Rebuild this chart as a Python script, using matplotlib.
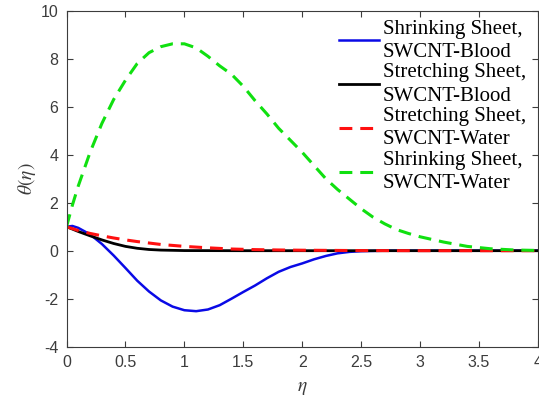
import matplotlib.pyplot as plt
import numpy as np

# eta values and theta(eta) readings for each case
eta_blue = [0, 0.05, 0.1, 0.2, 0.3, 0.4, 0.5, 0.6, 0.7, 0.8, 0.9, 1.0, 1.1, 1.2, 1.3, 1.4,
            1.5, 1.6, 1.7, 1.8, 1.9, 2.0, 2.1, 2.2, 2.3, 2.4, 2.5, 2.7, 3.0, 4.0]
theta_blue = [1.0, 1.03, 0.95, 0.68, 0.28, -0.2, -0.72, -1.25, -1.7, -2.07, -2.33, -2.48, -2.52,
              -2.45, -2.27, -2.0, -1.72, -1.45, -1.15, -0.88, -0.68, -0.53, -0.36, -0.22, -0.11,
              -0.05, -0.02, 0.0, 0.0, 0.0]

eta_black = [0, 0.1, 0.2, 0.3, 0.4, 0.5, 0.6, 0.7, 0.8, 1.0, 1.5, 4.0]
theta_black = [1.0, 0.8, 0.62, 0.45, 0.3, 0.18, 0.1, 0.05, 0.025, 0.005, 0.0, 0.0]

eta_red = [0, 0.1, 0.2, 0.3, 0.4, 0.5, 0.6, 0.7, 0.8, 1.0, 1.2, 1.4, 1.6, 1.8, 2.0, 2.5, 3.0, 4.0]
theta_red = [1.0, 0.84, 0.72, 0.62, 0.53, 0.45, 0.38, 0.32, 0.26, 0.18, 0.12, 0.07, 0.045, 0.03,
             0.02, 0.005, 0.0, 0.0]

eta_green = [0, 0.05, 0.1, 0.2, 0.3, 0.4, 0.5, 0.6, 0.7, 0.8, 0.9, 1.0, 1.1, 1.2, 1.3, 1.4, 1.5,
             1.6, 1.7, 1.8, 1.9, 2.0, 2.1, 2.2, 2.3, 2.4, 2.5, 2.6, 2.7, 2.8, 2.9, 3.0, 3.2, 3.4,
             3.6, 3.8, 4.0]
theta_green = [1.0, 1.9, 2.7, 4.1, 5.3, 6.3, 7.1, 7.8, 8.25, 8.5, 8.62, 8.62, 8.45, 8.1, 7.7,
               7.35, 6.85, 6.25, 5.7, 5.1, 4.6, 4.1, 3.55, 3.0, 2.55, 2.15, 1.75, 1.4, 1.12, 0.88,
               0.72, 0.58, 0.36, 0.18, 0.08, 0.03, 0.01]

labels = ["Shrinking Sheet,\nSWCNT-Blood", "Stretching Sheet,\nSWCNT-Blood",
          "Stretching Sheet,\nSWCNT-Water", "Shrinking Sheet,\nSWCNT-Water"]

gray = '#3c3c3c'
plt.rcParams['mathtext.fontset'] = 'stix'
plt.rcParams['font.family'] = 'Liberation Sans'
plt.rcParams['axes.unicode_minus'] = False

fig = plt.figure(figsize=(5.39, 3.96), dpi=100)
ax = fig.add_axes([0.1234, 0.1245, 0.8746, 0.8485])

ax.plot(eta_blue, theta_blue, color='#0a0ae6', linewidth=1.8, label=labels[0])
ax.plot(eta_black, theta_black, color='black', linewidth=2.0, label=labels[1])
l3, = ax.plot(eta_red, theta_red, color='#ff1010', linewidth=2.2, label=labels[2])
l4, = ax.plot(eta_green, theta_green, color='#10e010', linewidth=2.2, label=labels[3])
l3.set_dashes([4.2, 2.6])
l4.set_dashes([4.2, 2.6])

ax.set_xlim(0, 4)
ax.set_ylim(-4, 10)
ax.set_xticks(np.arange(0, 4.01, 0.5))
ax.set_xticklabels(['0', '0.5', '1', '1.5', '2', '2.5', '3', '3.5', '4'])
ax.set_yticks(np.arange(-4, 10.1, 2))
ax.tick_params(direction='in', top=True, right=True, length=4, width=0.8,
               labelsize=11.5, colors=gray, labelcolor=gray, pad=6)
for s in ax.spines.values():
    s.set_color(gray)
    s.set_linewidth(0.8)

ax.set_xlabel(r'$\eta$', fontsize=14, color=gray, labelpad=7)
ax.set_ylabel(r'$\theta(\eta)$', fontsize=14, color=gray, labelpad=2)

leg = ax.legend(loc='upper left', bbox_to_anchor=(0.572, 0.983), frameon=False,
                prop={'family': 'Liberation Serif', 'size': 15},
                handlelength=1.9, handletextpad=0.2, labelspacing=0.08,
                borderpad=0.15, borderaxespad=0.0)
for t in leg.get_texts():
    t.set_linespacing(1.3)

fig.savefig('out.png', dpi=100)
